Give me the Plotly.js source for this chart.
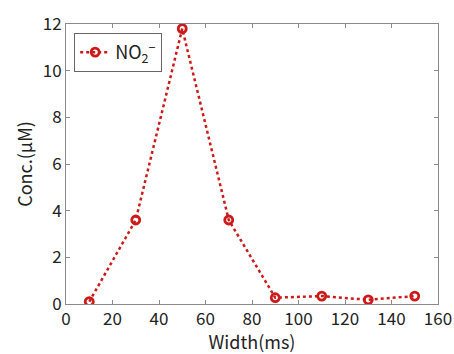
<!DOCTYPE html>
<html><head><meta charset="utf-8">
<script src="https://cdn.plot.ly/plotly-3.0.1.min.js"></script>
<style>body{margin:0;padding:0;background:#fff}</style>
</head><body>
<div id="chart" style="width:454px;height:354px"></div>
<script>
const widths = [10, 30, 50, 70, 90, 110, 130, 150];
const no2 = [0.1, 3.6, 11.8, 3.6, 0.27, 0.34, 0.18, 0.34];
const seriesName = 'NO<sub>2</sub><sup>−</sup>';
const xTicks = [0, 20, 40, 60, 80, 100, 120, 140, 160];
const yTicks = [0, 2, 4, 6, 8, 10, 12];

const font = '"Noto Sans CJK JP", "Noto Sans", sans-serif';
const trace = {
  x: widths, y: no2, name: seriesName, type: 'scatter', mode: 'lines+markers',
  line: {color: '#cc1a1a', width: 2.5, dash: 'dot'},
  marker: {symbol: 'circle-open', size: 8, color: '#cc1a1a', line: {width: 2.8, color: '#cc1a1a'}},
  showlegend: true
};
const axisCommon = {
  showgrid: false, zeroline: false, showline: true, linecolor: '#8a8a8a', linewidth: 1,
  mirror: 'ticks', ticks: 'inside', ticklen: 4, tickcolor: '#8a8a8a',
  tickfont: {family: font, size: 17, color: '#222'}
};
const layout = {
  width: 454, height: 354,
  margin: {l: 66, r: 16, t: 24, b: 50},
  paper_bgcolor: '#fff', plot_bgcolor: '#fff',
  xaxis: Object.assign({}, axisCommon, {range: [0, 160], tickvals: xTicks,
    title: {text: 'Width(ms)', font: {family: font, size: 18, color: '#222'}, standoff: 9}}),
  yaxis: Object.assign({}, axisCommon, {range: [0, 12], tickvals: yTicks,
    title: {text: 'Conc.(μM)', font: {family: font, size: 18, color: '#222'}, standoff: 5}}),
  legend: {x: 0.022, y: 0.968, xanchor: 'left', yanchor: 'top', bgcolor: '#fff',
    bordercolor: '#666', borderwidth: 1, font: {family: font, size: 18, color: '#222'}},
  showlegend: true
};
Plotly.newPlot('chart', [trace], layout, {displayModeBar: false, staticPlot: true});
</script>
</body></html>
